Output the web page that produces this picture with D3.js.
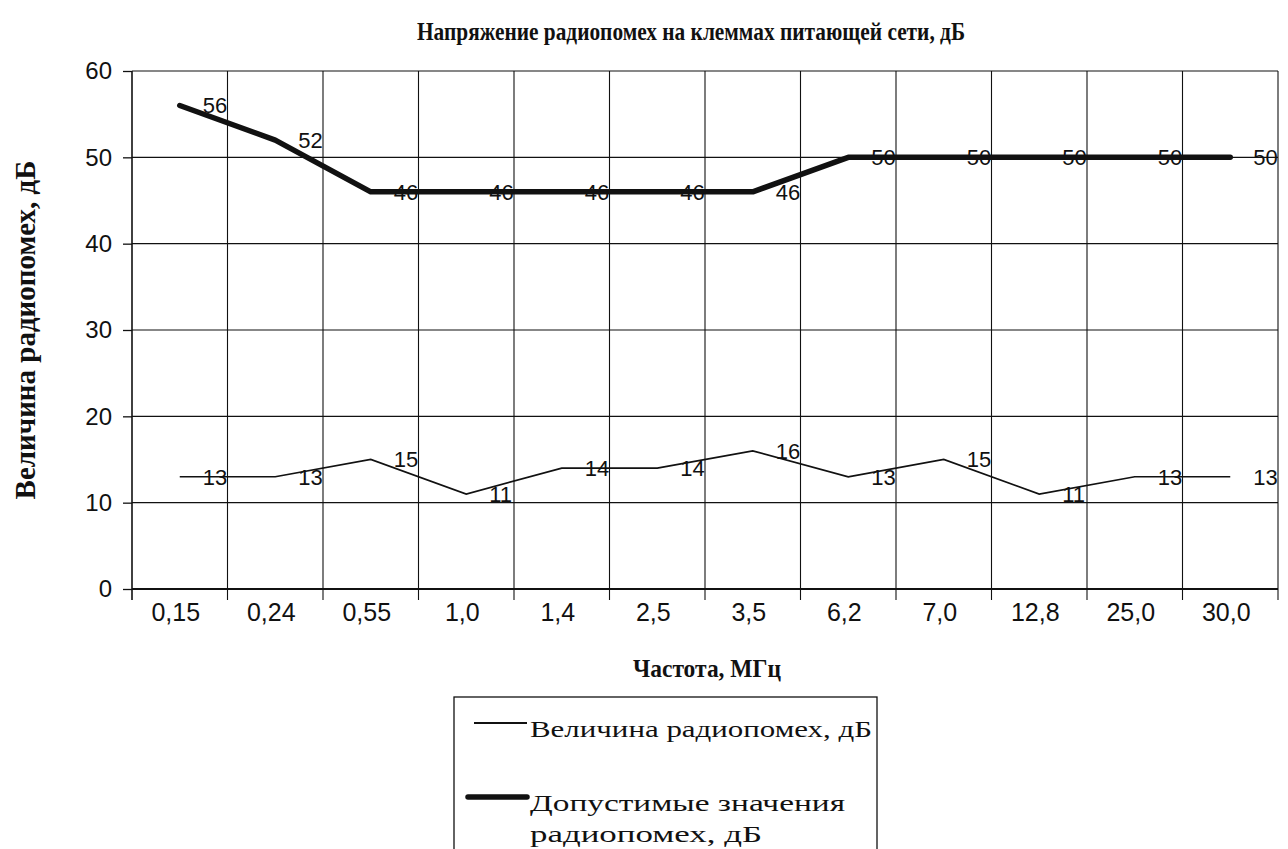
<!DOCTYPE html>
<html>
<head>
<meta charset="utf-8">
<script src="https://cdn.jsdelivr.net/npm/d3@7"></script>
<style>
  html, body { margin: 0; padding: 0; background: #fff; }
  svg { display: block; }
</style>
</head>
<body>
<svg id="chart" width="1288" height="849"></svg>
<script>
const categories = ["0,15", "0,24", "0,55", "1,0", "1,4", "2,5", "3,5", "6,2", "7,0", "12,8", "25,0", "30,0"];
const measured = [13, 13, 15, 11, 14, 14, 16, 13, 15, 11, 13, 13];
const allowed = [56, 52, 46, 46, 46, 46, 46, 50, 50, 50, 50, 50];
const yTicks = [0, 10, 20, 30, 40, 50, 60];

const titleText = "Напряжение радиопомех на клеммах питающей сети, дБ";
const yTitle = "Величина радиопомех, дБ";
const xTitle = "Частота, МГц";
const legendMeasured = "Величина радиопомех, дБ";
const legendAllowed = ["Допустимые значения", "радиопомех, дБ"];

const W = 1288, H = 849;
const plot = { left: 132, right: 1278, top: 71, bottom: 589 };
const ink = "#111";
const serif = "'Liberation Serif', 'DejaVu Serif', serif";
const sans = "'Liberation Sans', Arial, sans-serif";

const svg = d3.select("#chart");
svg.append("rect").attr("width", W).attr("height", H).attr("fill", "#fff");

const x = d3.scaleBand().domain(categories).range([plot.left, plot.right]);
const y = d3.scaleLinear().domain([0, 60]).range([plot.bottom, plot.top]);
const cx = c => x(c) + x.bandwidth() / 2;

// horizontal gridlines
svg.append("g").selectAll("line").data(yTicks).join("line")
  .attr("x1", plot.left).attr("x2", plot.right)
  .attr("y1", d => y(d)).attr("y2", d => y(d))
  .attr("stroke", ink).attr("stroke-width", d => d === 0 ? 2 : 1.2);

// vertical gridlines at category boundaries (plus right edge)
const bounds = categories.map(c => x(c)).concat([x.range()[1]]);
svg.append("g").selectAll("line").data(bounds).join("line")
  .attr("x1", d => d).attr("x2", d => d)
  .attr("y1", plot.top).attr("y2", plot.bottom + 11)
  .attr("stroke", ink).attr("stroke-width", (d, i) => i === 0 ? 1.6 : 1.1);

// y axis
const yAxis = svg.append("g").attr("transform", `translate(${plot.left},0)`)
  .call(d3.axisLeft(y).tickValues(yTicks).tickSize(9).tickPadding(11));
yAxis.select(".domain").remove();
yAxis.selectAll(".tick line").attr("stroke", ink).attr("stroke-width", 1.3);
yAxis.selectAll(".tick text").attr("font-family", sans).attr("font-size", 24).attr("fill", ink);

// x axis labels
const xAxis = svg.append("g").attr("transform", `translate(0,${plot.bottom})`)
  .call(d3.axisBottom(x).tickSize(0).tickPadding(14));
xAxis.select(".domain").remove();
xAxis.selectAll(".tick text").attr("font-family", sans).attr("font-size", 25).attr("fill", ink)
  .attr("dx", -4);

// lines
const line = d3.line().x((d, i) => cx(categories[i])).y(d => y(d));
svg.append("path").datum(measured).attr("d", line)
  .attr("fill", "none").attr("stroke", ink).attr("stroke-width", 1.7).attr("stroke-linejoin", "miter");
svg.append("path").datum(allowed).attr("d", line)
  .attr("fill", "none").attr("stroke", ink).attr("stroke-width", 5.5)
  .attr("stroke-linejoin", "round").attr("stroke-linecap", "round");

// data labels
function labels(data) {
  svg.append("g").selectAll("text").data(data).join("text")
    .attr("x", (d, i) => cx(categories[i]) + 23)
    .attr("y", d => y(d))
    .attr("dy", "0.36em")
    .attr("font-family", sans).attr("font-size", 22).attr("fill", ink)
    .text(d => d3.format("d")(d));
}
labels(measured);
labels(allowed);

// titles
svg.append("text").attr("x", 417).attr("y", 40)
  .attr("font-family", serif).attr("font-weight", "bold").attr("font-size", 25).attr("fill", ink)
  .attr("textLength", 548).attr("lengthAdjust", "spacingAndGlyphs")
  .text(titleText);
svg.append("text").attr("transform", "translate(35,330) rotate(-90)").attr("text-anchor", "middle")
  .attr("font-family", serif).attr("font-weight", "bold").attr("font-size", 29).attr("fill", ink)
  .text(yTitle);
svg.append("text").attr("x", 633).attr("y", 677)
  .attr("font-family", serif).attr("font-weight", "bold").attr("font-size", 25).attr("fill", ink)
  .attr("textLength", 148).attr("lengthAdjust", "spacingAndGlyphs")
  .text(xTitle);

// legend
const lg = svg.append("g");
lg.append("rect").attr("x", 454).attr("y", 697).attr("width", 423).attr("height", 170)
  .attr("fill", "#fff").attr("stroke", ink).attr("stroke-width", 1.3);
lg.append("line").attr("x1", 474).attr("x2", 527).attr("y1", 723).attr("y2", 723)
  .attr("stroke", ink).attr("stroke-width", 1.8);
lg.append("text").attr("x", 530).attr("y", 737).attr("font-family", serif).attr("font-size", 24).attr("fill", ink)
  .attr("textLength", 342).attr("lengthAdjust", "spacingAndGlyphs")
  .text(legendMeasured);
lg.append("line").attr("x1", 468).attr("x2", 527).attr("y1", 797).attr("y2", 797)
  .attr("stroke", ink).attr("stroke-width", 5.5).attr("stroke-linecap", "round");
const legendLens = [315, 232];
lg.selectAll("text.a").data(legendAllowed).join("text").attr("class", "a")
  .attr("x", 530).attr("y", (d, i) => 811 + i * 31)
  .attr("font-family", serif).attr("font-size", 24).attr("fill", ink)
  .attr("textLength", (d, i) => legendLens[i]).attr("lengthAdjust", "spacingAndGlyphs")
  .text(d => d);
</script>
</body>
</html>
